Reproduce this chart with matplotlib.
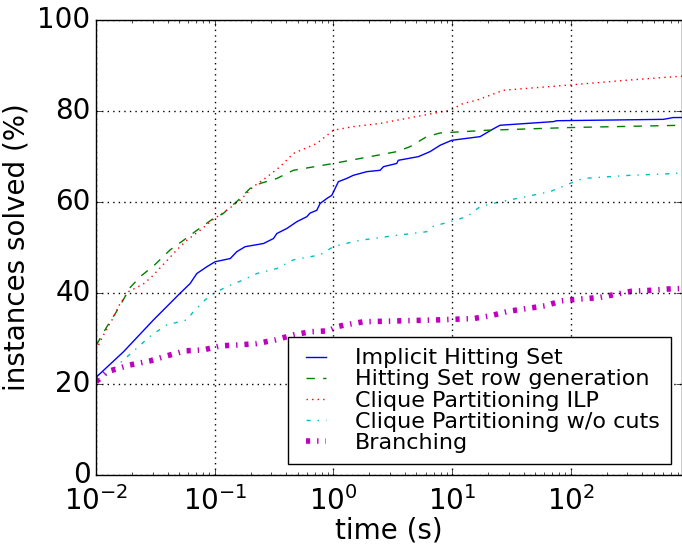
import matplotlib
matplotlib.use("Agg")
import matplotlib.pyplot as plt

plt.style.use("classic")

labels = ["Implicit Hitting Set", "Hitting Set row generation", "Clique Partitioning ILP",
          "Clique Partitioning w/o cuts", "Branching"]

t_ihs = [0.01, 0.017, 0.0304, 0.0464, 0.0493, 0.0619, 0.0705, 0.0857, 0.1007, 0.135, 0.153, 0.18,
         0.257, 0.312, 0.333, 0.404, 0.491, 0.596, 0.635, 0.723, 0.771, 0.879, 0.968, 1.10, 1.29,
         1.47, 1.91, 2.47, 2.64, 3.41, 3.52, 5.19, 6.51, 7.91, 9.93, 17.2, 22.2, 25.3, 71.3, 76.1,
         603, 731, 865]
y_ihs = [21.5, 27.1, 34.1, 38.9, 39.6, 42.1, 44.3, 45.8, 46.9, 47.6, 49.1, 50.2, 50.9, 52.0, 53.1,
         54.2, 55.7, 56.8, 57.6, 58.2, 59.7, 60.8, 61.5, 64.5, 65.2, 65.9, 66.7, 67.0, 67.8, 68.5,
         69.2, 70.0, 71.1, 72.5, 73.6, 74.4, 76.1, 76.9, 77.7, 77.9, 78.2, 78.6, 78.6]

t_hsrg = [0.01, 0.0123, 0.0145, 0.017, 0.0193, 0.0235, 0.0314, 0.042, 0.0544, 0.0705, 0.0973,
          0.118, 0.130, 0.153, 0.198, 0.241, 0.333, 0.459, 0.997, 2.03, 3.41, 4.42, 6.11, 7.91,
          19.5, 98.4, 865]
y_hsrg = [28.5, 32.6, 35.5, 38.6, 41.2, 43.6, 46.3, 49.5, 51.6, 53.8, 56.4, 57.5, 58.6, 60.1,
          63.0, 64.1, 65.2, 67.0, 68.5, 70.0, 71.1, 72.2, 74.4, 75.2, 75.8, 76.4, 76.9]

t_cpilp = [0.01, 0.0119, 0.0136, 0.0159, 0.0187, 0.025, 0.0294, 0.0381, 0.0479, 0.058, 0.0752,
           0.0944, 0.126, 0.163, 0.211, 0.274, 0.355, 0.459, 0.723, 0.997, 1.47, 2.47, 3.41, 9.6,
           12.4, 16.1, 27, 92.3, 295, 865]
y_cpilp = [27.5, 31.5, 34.1, 37.7, 40.3, 42.0, 43.6, 46.7, 49.5, 51.6, 53.8, 56.0, 58.2, 60.4,
           63.4, 65.5, 67.8, 70.7, 72.9, 75.8, 76.6, 77.3, 78.0, 80.2, 81.7, 82.4, 84.6, 85.7,
           86.8, 87.7]

t_cpnc = [0.01, 0.0131, 0.017, 0.0227, 0.0294, 0.0394, 0.058, 0.066, 0.0828, 0.0973, 0.126,
          0.174, 0.226, 0.333, 0.459, 0.771, 0.997, 1.47, 1.67, 3.41, 6.11, 6.95, 9.6, 13.3,
          17.2, 23.8, 66.8, 98.4, 127, 315, 780, 805, 865]
y_cpnc = [20.8, 22.7, 25.3, 28.2, 30.8, 33.0, 34.1, 35.9, 38.5, 39.9, 41.4, 42.9, 44.3, 45.4,
          47.3, 48.4, 50.2, 51.3, 51.6, 52.7, 53.5, 54.7, 55.7, 56.8, 59.0, 59.9, 62.3, 64.1,
          65.2, 65.9, 66.3, 67.0, 67.0]

t_br = [0.01, 0.0123, 0.0193, 0.0285, 0.0394, 0.0562, 0.080, 0.111, 0.158, 0.226, 0.322, 0.459,
        0.635, 0.906, 1.07, 1.25, 1.79, 7.41, 15.1, 20.9, 29.8, 42.5, 60.6, 83.8, 119, 171, 236,
        326, 465, 663, 865]
y_br = [20.5, 22.7, 24.2, 25.1, 26.2, 27.3, 27.5, 28.4, 28.6, 28.9, 29.7, 30.8, 31.5, 31.7,
        32.6, 33.0, 33.7, 34.1, 34.4, 35.0, 36.0, 36.6, 37.2, 38.3, 38.7, 39.0, 39.7, 40.4,
        40.6, 40.9, 41.0]

fig = plt.figure(figsize=(6.82, 5.46), dpi=100, facecolor="white")
ax = fig.add_axes([0.141, 0.130, 0.859, 0.833])

ax.plot(t_ihs, y_ihs, color="b", linestyle="-", lw=1, label=labels[0])
ax.plot(t_hsrg, y_hsrg, color="g", linestyle="--", lw=1, label=labels[1])
ax.plot(t_cpilp, y_cpilp, color="r", linestyle=":", lw=1, label=labels[2])
ax.plot(t_cpnc, y_cpnc, color="c", linestyle="-.", lw=1, label=labels[3])
ax.plot(t_br, y_br, color="m", linestyle="-.", lw=4, label=labels[4])

ax.set_xscale("log")
ax.set_xlim(0.01, 865)
ax.set_ylim(0, 100)
ax.set_yticks([0, 20, 40, 60, 80, 100])
ax.grid(True, which="major", color="black", linestyle=":", lw=1)
ax.tick_params(axis="both", which="major", labelsize=20)
ax.tick_params(axis="x", which="major", pad=8)
ax.set_xlabel("time (s)", fontsize=20, labelpad=0)
ax.set_ylabel("instances solved (%)", fontsize=20)

leg = ax.legend(loc="lower right", fontsize=16, handlelength=1.5, handletextpad=1.0,
                labelspacing=0.05, borderpad=0.5, fancybox=False)
leg.get_frame().set_linewidth(1)

fig.savefig("out.png", dpi=100, facecolor="white")
